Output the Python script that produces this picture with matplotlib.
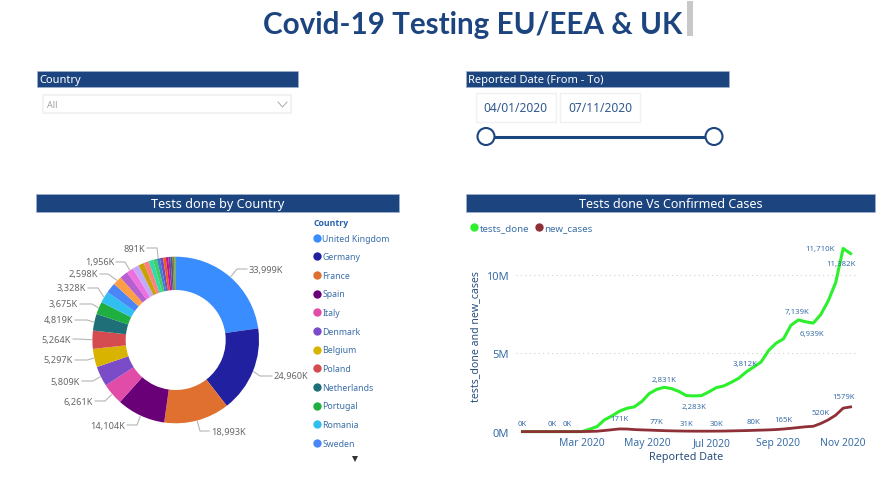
import math
import matplotlib
matplotlib.use('Agg')
import matplotlib.pyplot as plt
import matplotlib.dates as mdates
import pandas as pd
from matplotlib.patches import Rectangle, Circle

plt.rcParams['font.family'] = ['Noto Sans', 'DejaVu Sans']

NAVY = '#1c4580'
BLUE_TEXT = '#3a6ea8'

# tests per country, in thousands (only the first 12 names are visible in the legend)
countries = ['United Kingdom', 'Germany', 'France', 'Spain', 'Italy', 'Denmark',
             'Belgium', 'Poland', 'Netherlands', 'Portugal', 'Romania', 'Sweden']
country_tests = [33999, 24960, 18993, 14104, 6261, 5809, 5297, 5264, 4819, 3675, 3328, 3000,
                 2598, 2400, 1956, 1900, 1600, 1500, 1300, 1100, 891, 900, 800, 700, 650, 600, 500, 395]
country_colors = ['#3a8dff', '#2020a0', '#e07030', '#6a0078', '#e04ca8', '#7a4cc8',
                  '#d8b400', '#d44c50', '#1f6f78', '#1fae40', '#30bff0', '#4a86f8',
                  '#ff9f45', '#b55fd0', '#f06fe0', '#c3a9fa', '#c9a100', '#fb8080',
                  '#2fdca5', '#3fcf60', '#3f7fd0', '#6a4fc0', '#f05a20', '#c8108c',
                  '#9030a0', '#207080', '#b06a20', '#50a040']

# weekly series, in thousands
week_dates = pd.date_range('2020-01-05', '2020-11-08', freq='7D')
tests_done = [0, 0, 0, 0, 0, 0, 0, 0, 0, 150, 320, 750, 1000, 1300, 1490, 1580, 1920, 2430, 2700, 2831,
              2750, 2560, 2300, 2283, 2300, 2540, 2810, 2920, 3150, 3410, 3812, 4130, 4450, 5180, 5650,
              5930, 6800, 7139, 7020, 6939, 7480, 8360, 9530, 11710, 11382]
new_cases = [0, 0, 0, 0, 0, 0, 0, 0, 2, 10, 25, 70, 120, 171, 165, 130, 110, 95, 77, 60,
             48, 38, 31, 28, 27, 28, 30, 35, 45, 55, 65, 80, 95, 110, 130, 165, 210, 260, 310, 340,
             520, 750, 1050, 1500, 1579]

# which points get a label, and where the label sits relative to the point (pixels)
tests_labels = {19: (0, 8), 23: (0, -11), 30: (-1, 8), 37: (-1, 8), 39: (-1, -10), 43: (-23, 0), 44: (-10, -10)}
cases_labels = {0: (0, 8), 4: (0, 8), 6: (0, 8), 13: (0, 10), 18: (0, 9), 22: (0, 8), 26: (0, 8),
                31: (0, 9), 35: (0, 10), 40: (0, 11), 44: (-7, 10)}

fig = plt.figure(figsize=(8.91, 4.89), dpi=100)

# full-figure axes in image pixels, used for the dashboard furniture and the donut
bg = fig.add_axes([0, 0, 1, 1])


def header(x0, x1, y0, y1, label, centered=True, size=9.2):
    bg.add_patch(Rectangle((x0, y0), x1 - x0, y1 - y0, fc=NAVY, ec='#9fb3cf', lw=0.5))
    ymid = (y0 + y1) / 2 + 0.7
    if centered:
        bg.text((x0 + x1) / 2, ymid, label, color='white', fontsize=size, ha='center', va='center')
    else:
        bg.text(x0 + 2, ymid, label, color='white', fontsize=size, ha='left', va='center')


# donut
cx, cy, R = 175.7, 341.0, 83.3
wedges, _ = bg.pie(country_tests, colors=country_colors, center=(cx, cy), radius=R, startangle=-90,
                   counterclock=True, wedgeprops={'width': R - 50, 'linewidth': 0})

bg.axis('off')

# elbow and label end of each leader line, image pixels
pie_labels = [(0, '33,999K', (237, 270), (247, 270)),
              (1, '24,960K', (260, 377), (272, 377)),
              (2, '18,993K', (200, 432), (209, 432)),
              (3, '14,104K', (137, 426), (127, 426)),
              (4, '6,261K', (105, 402), (95, 402)),
              (5, '5,809K', (93, 382), (82, 382)),
              (6, '5,297K', (87, 361), (75, 361)),
              (7, '5,264K', (77, 340), (73, 340)),
              (8, '4,819K', (87, 321), (75, 321)),
              (9, '3,675K', (92, 305), (80, 305)),
              (10, '3,328K', (98, 289), (88, 289)),
              (12, '2,598K', (108, 275), (100, 275)),
              (14, '1,956K', (125, 263), (116, 263)),
              (20, '891K', (157, 249), (147, 249))]
for idx, txt, elbow, end in pie_labels:
    w = wedges[idx]
    mid = math.radians((w.theta1 + w.theta2) / 2)
    start = (cx + R * 1.01 * math.cos(mid), cy + R * 1.01 * math.sin(mid))
    bg.plot([start[0], elbow[0], end[0]], [start[1], elbow[1], end[1]], color='#b5b5b5', lw=0.8)
    ha = 'left' if end[0] > elbow[0] else 'right'
    bg.text(end[0] + (2 if ha == 'left' else -2), end[1], txt, color='#666666', fontsize=6.6, ha=ha, va='center')

# title
bg.text(473, 25, 'Covid-19 Testing EU/EEA & UK', color=NAVY, fontsize=21.3, fontweight='bold',
        family='Lato', ha='center', va='center')
bg.add_patch(Rectangle((687, 2), 6, 35, fc='#c8c8c8', ec='none'))

# slicers
header(37, 298, 72, 88, 'Country', centered=False, size=8)
bg.add_patch(Rectangle((43, 96), 248, 18, fc='white', ec='#f2f2f2', lw=1.5))
bg.text(47, 106, 'All', color='#a0a0a0', fontsize=6.5, va='center')
bg.plot([278, 282.5, 287], [103, 108, 103], color='#aaaaaa', lw=0.7)

header(466, 729, 72, 88, 'Reported Date (From - To)', centered=False, size=8)
for x0, x1, label in [(475.5, 555.5, '04/01/2020'), (560, 640, '07/11/2020')]:
    bg.add_patch(Rectangle((x0, 94), x1 - x0, 28.5, fc='white', ec='#f0f0f0', lw=1))
    bg.text((x0 + x1) / 2, 109, label, color='#2f5a8f', fontsize=8.6, ha='center', va='center')
bg.plot([486, 714], [137.5, 137.5], color=NAVY, lw=2.2, zorder=3)
for x in [486, 714]:
    bg.add_patch(Circle((x, 137.5), 8.5, fc='white', ec=NAVY, lw=1.5, zorder=4))

# section headers
header(36, 399, 195, 213, 'Tests done by Country', size=9.1)
header(466, 875, 195, 213, 'Tests done Vs Confirmed Cases', size=9.0)

# country legend
bg.text(313, 223, 'Country', color='#2a62ad', fontsize=6.3, fontweight='bold', family='Open Sans', va='center')
for i, name in enumerate(countries):
    y = 238.7 + i * 18.65
    bg.plot([317], [y], 'o', ms=6, color=country_colors[i], mew=0)
    bg.text(322.5, y + 0.3, name, color=BLUE_TEXT, fontsize=6.3, va='center')
bg.plot([355], [460], 'v', ms=4, color='#333333', mew=0)

# line chart legend
for x, tx, col, name in [(474, 480, '#2bf02b', 'tests_done'), (538.7, 544, '#8f2f36', 'new_cases')]:
    bg.plot([x], [228], 'o', ms=6, color=col, mew=0)
    bg.text(tx, 228.3, name, color=BLUE_TEXT, fontsize=7, va='center')

bg.set_xlim(0, 891)
bg.set_ylim(489, 0)
bg.set_aspect('auto')

# line chart
left, right, top, bottom = 516, 857, 240, 432.6
ax = fig.add_axes([left / 891, 1 - bottom / 489, (right - left) / 891, (bottom - top) / 489])
ax.patch.set_alpha(0)
ax.plot(week_dates, tests_done, color='#2bf02b', lw=2.2, clip_on=False, zorder=3)
ax.plot(week_dates, new_cases, color='#8f2f36', lw=2.0, clip_on=False, zorder=4)
ax.set_xlim(pd.Timestamp('2019-12-30'), pd.Timestamp('2020-11-14'))
ax.set_ylim(0, (bottom - top) / 15.64 * 1000)
ax.set_yticks([0, 5000, 10000])
ax.set_yticklabels(['0M', '5M', '10M'])
ax.xaxis.set_major_locator(mdates.MonthLocator(bymonth=[3, 5, 7, 9, 11]))
ax.xaxis.set_major_formatter(mdates.DateFormatter('%b %Y'))
ax.tick_params(length=0, labelsize=8, labelcolor=BLUE_TEXT)
ax.tick_params(axis='x', labelsize=7.4, pad=4)
ax.tick_params(axis='y', pad=5)
ax.grid(axis='y', color='#cfcfcf', ls=(0, (1, 3)), lw=0.8)
for s in ax.spines.values():
    s.set_visible(False)
ax.set_xlabel('Reported Date', color='#2a4f80', fontsize=7.8, labelpad=2)
ax.set_ylabel('tests_done and new_cases', color='#2a4f80', fontsize=7.6, labelpad=4)

for series, labels in [(tests_done, tests_labels), (new_cases, cases_labels)]:
    for i, off in labels.items():
        text = f'{series[i]:,}K' if series is tests_done else f'{series[i]}K'
        ax.annotate(text, (week_dates[i], series[i]), xytext=off, textcoords='offset pixels',
                    color=BLUE_TEXT, fontsize=5.6, ha='center', va='center', zorder=5)

fig.savefig('out.png', dpi=100)
